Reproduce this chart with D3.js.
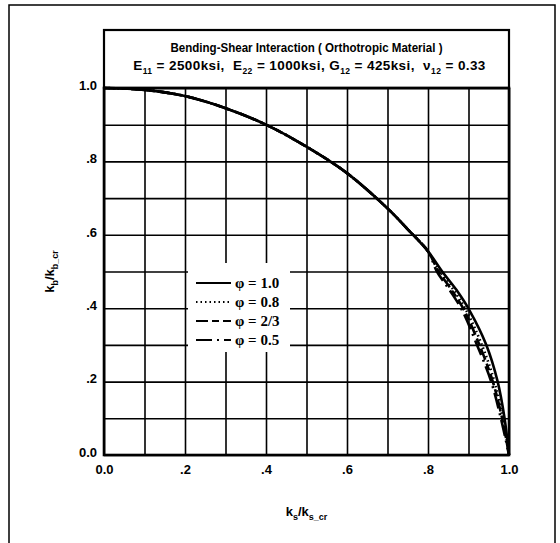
<!DOCTYPE html>
<html>
<head>
<meta charset="utf-8">
<script src="https://cdn.jsdelivr.net/npm/d3@7"></script>
<style>
  body { margin: 0; background: #fff; }
  text { font-family: "Liberation Sans", Arial, sans-serif; font-weight: bold; fill: #000; }
  .legend text { font-family: "Liberation Serif", "Times New Roman", serif; }
</style>
</head>
<body>
<svg width="560" height="543"></svg>
<script>
// shared upper part of every curve (k_s/k_s_cr, k_b/k_b_cr)
const upperKs = [0, 0.1, 0.2, 0.3, 0.4, 0.5, 0.6, 0.7, 0.75, 0.8];
const upperKb = [1.0, 0.995, 0.978, 0.945, 0.9, 0.84, 0.768, 0.672, 0.615, 0.555];

// lower branches, one per phi
const phiLabels = ["1.0", "0.8", "2/3", "0.5"];
const lowerKs = [
  [0.835, 0.87, 0.902, 0.944, 0.972, 0.989, 1.0],
  [0.83, 0.863, 0.894, 0.933, 0.964, 0.985, 1.0],
  [0.826, 0.858, 0.889, 0.927, 0.960, 0.983, 1.0],
  [0.822, 0.853, 0.884, 0.921, 0.956, 0.980, 1.0]
];
const lowerKb = [0.5, 0.45, 0.395, 0.3, 0.2, 0.1, 0.0];
const dashes = ["none", "1.5,3", "12,4,7,4", "16,5,2,5"];

const xTicks = [0, 0.2, 0.4, 0.6, 0.8, 1.0];
const yTicks = [0, 0.2, 0.4, 0.6, 0.8, 1.0];
const gridTicks = d3.range(0, 11).map(i => i / 10);

const pLeft = 104, pRight = 509, pTop = 88, pBottom = 455;

const svg = d3.select("svg");

// outer frame
svg.append("rect")
  .attr("x", 9).attr("y", 5)
  .attr("width", 546).attr("height", 560)
  .attr("fill", "none").attr("stroke", "#000").attr("stroke-width", 1.5);

const x = d3.scaleLinear().domain([0, 1]).range([pLeft, pRight]);
const y = d3.scaleLinear().domain([0, 1]).range([pBottom, pTop]);

// grid
svg.append("g")
  .attr("transform", `translate(0, ${pBottom})`)
  .call(d3.axisBottom(x).tickValues(gridTicks).tickSize(-(pBottom - pTop)).tickFormat(""))
  .call(g => g.select(".domain").remove())
  .call(g => g.selectAll("line").attr("stroke", "#000").attr("stroke-width", 1.6));
svg.append("g")
  .attr("transform", `translate(${pLeft}, 0)`)
  .call(d3.axisLeft(y).tickValues(gridTicks).tickSize(-(pRight - pLeft)).tickFormat(""))
  .call(g => g.select(".domain").remove())
  .call(g => g.selectAll("line").attr("stroke", "#000").attr("stroke-width", 1.6));

// tick labels
const fmt = d => (d === 0 || d === 1) ? d.toFixed(1) : d.toFixed(1).replace("0.", ".");
svg.append("g")
  .attr("transform", `translate(0, ${pBottom})`)
  .call(d3.axisBottom(x).tickValues(xTicks).tickSize(0).tickPadding(10).tickFormat(fmt))
  .call(g => g.select(".domain").remove())
  .call(g => g.selectAll("text").attr("font-size", 13).attr("font-family", null));
svg.append("g")
  .attr("transform", `translate(${pLeft}, 0)`)
  .call(d3.axisLeft(y).tickValues(yTicks).tickSize(0).tickPadding(7).tickFormat(fmt))
  .call(g => g.select(".domain").remove())
  .call(g => g.selectAll("text").attr("font-size", 13).attr("font-family", null).attr("dy", "0.1em"));

// curves
const line = d3.line().x(d => x(d[0])).y(d => y(d[1])).curve(d3.curveCatmullRom.alpha(0.5));
const series = phiLabels.map((p, i) => {
  const pts = upperKs.map((k, j) => [k, upperKb[j]]);
  return pts.concat(lowerKs[i].map((k, j) => [k, lowerKb[j]]));
});
svg.append("g").selectAll("path")
  .data(series)
  .join("path")
  .attr("d", line)
  .attr("fill", "none")
  .attr("stroke", "#000")
  .attr("stroke-width", 2.6)
  .attr("stroke-dasharray", (d, i) => dashes[i]);

// plot frame and title box
svg.append("rect")
  .attr("x", pLeft).attr("y", pTop)
  .attr("width", pRight - pLeft).attr("height", pBottom - pTop)
  .attr("fill", "none").attr("stroke", "#000").attr("stroke-width", 2.6);
svg.append("rect")
  .attr("x", pLeft).attr("y", 30)
  .attr("width", pRight - pLeft).attr("height", pTop - 30)
  .attr("fill", "none").attr("stroke", "#000").attr("stroke-width", 2.2);

svg.append("text")
  .attr("x", (pLeft + pRight) / 2).attr("y", 52)
  .attr("text-anchor", "middle").attr("font-size", 12.5)
  .attr("textLength", 272).attr("lengthAdjust", "spacingAndGlyphs")
  .text("Bending-Shear Interaction ( Orthotropic Material )");

// text with subscripts: pairs of [normal, subscript]
function subText(sel, parts, subSize) {
  parts.forEach(([t, s]) => {
    sel.append("tspan").attr("dy", sel.selectAll("tspan").size() ? -4 : 0).text(t);
    if (s) sel.append("tspan").attr("font-size", subSize).attr("dy", 4).text(s);
  });
}

const params = svg.append("text")
  .attr("x", (pLeft + pRight) / 2 + 3).attr("y", 74)
  .attr("text-anchor", "middle").attr("font-size", 13.5)
  .attr("letter-spacing", 0.4).attr("xml:space", "preserve");
subText(params, [
  ["E", "11"], [" = 2500ksi,  E", "22"], [" = 1000ksi, G", "12"], [" = 425ksi,  \u03bd", "12"], [" = 0.33", null]
], 8.5);

// legend
const legend = svg.append("g").attr("class", "legend");
legend.append("rect")
  .attr("x", 188).attr("y", 263).attr("width", 102).attr("height", 89)
  .attr("fill", "#fff");
const rows = legend.selectAll("g")
  .data(phiLabels)
  .join("g")
  .attr("transform", (d, i) => `translate(196, ${283 + i * 19})`);
rows.append("line")
  .attr("x1", 0).attr("x2", 35)
  .attr("stroke", "#000").attr("stroke-width", 2)
  .attr("stroke-dasharray", (d, i) => dashes[i]);
rows.append("text")
  .attr("x", 39).attr("dy", "0.35em").attr("font-size", 15)
  .text(d => "\u03c6 = " + d);

// axis titles
const xt = svg.append("text")
  .attr("x", (pLeft + pRight) / 2).attr("y", 520)
  .attr("text-anchor", "middle").attr("font-size", 13);
subText(xt, [["k", "s"], ["/k", "s_cr"]], 9);

const yt = svg.append("text")
  .attr("transform", `translate(58, ${(pTop + pBottom) / 2}) rotate(-90)`)
  .attr("text-anchor", "middle").attr("font-size", 13);
subText(yt, [["k", "b"], ["/k", "b_cr"]], 9);
</script>
</body>
</html>
